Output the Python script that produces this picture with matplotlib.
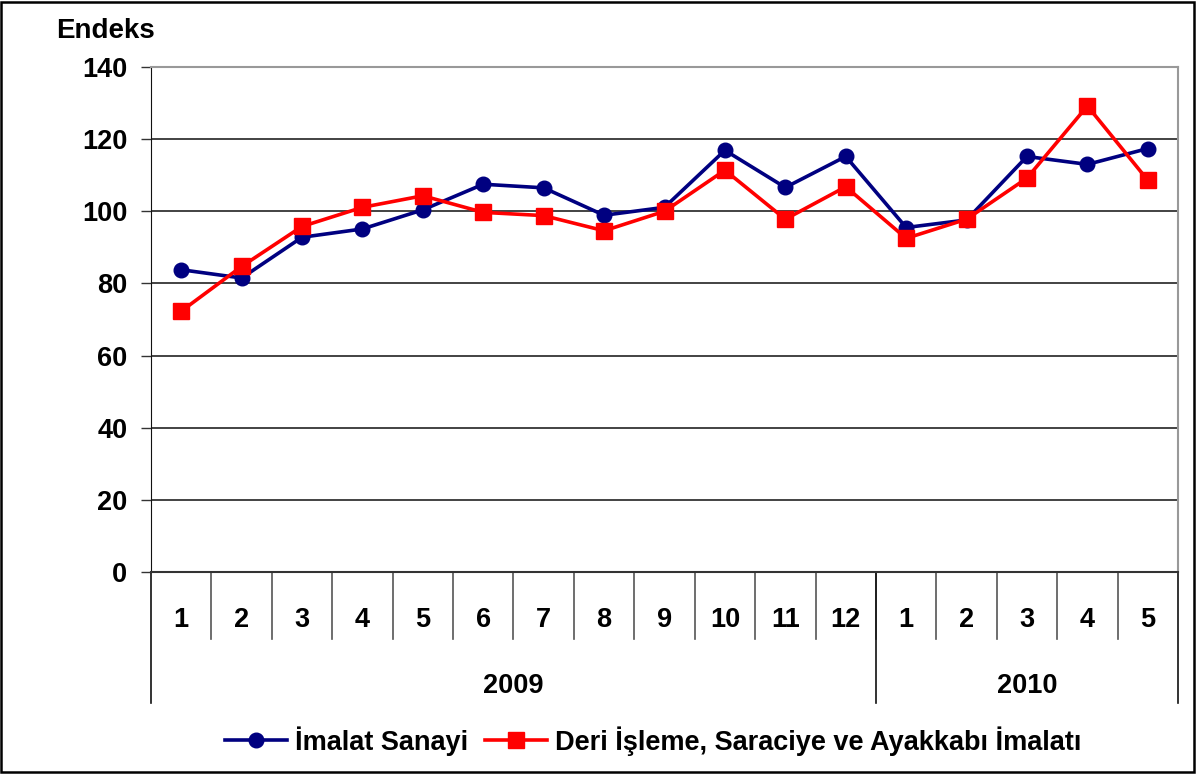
import matplotlib
matplotlib.use("Agg")
import matplotlib.pyplot as plt
from matplotlib.patches import Rectangle

plt.rcParams['font.family'] = ['Liberation Sans', 'DejaVu Sans']
plt.rcParams['font.weight'] = 'bold'

# data
months = ['1', '2', '3', '4', '5', '6', '7', '8', '9', '10', '11', '12',
          '1', '2', '3', '4', '5']
years = ['2009', '2010']
year_counts = [12, 5]
imalat = [83.8, 81.5, 92.8, 95.1, 100.4, 107.5, 106.5, 98.9, 101.1, 116.9,
          106.6, 115.2, 95.5, 97.6, 115.2, 113.0, 117.4]
deri = [72.3, 84.7, 95.8, 101.1, 104.3, 99.7, 98.8, 94.6, 100.0, 111.4,
        97.8, 106.8, 92.5, 97.8, 109.2, 129.2, 108.6]
yticks = [0, 20, 40, 60, 80, 100, 120, 140]

fs = 19.5
fig = plt.figure(figsize=(11.96, 7.74), dpi=100)
fig.patches.append(Rectangle((0.001, 0.002), 0.997, 0.996, transform=fig.transFigure,
                             fill=False, edgecolor='black', linewidth=1.8))

ax = fig.add_axes([151 / 1196, 1 - 572 / 774, (1178 - 151) / 1196, (572 - 67) / 774])
x = list(range(len(months)))

ax.plot(x, imalat, color='#000080', linewidth=2.6, marker='o', markersize=10.5,
        label='İmalat Sanayi', zorder=3)
ax.plot(x, deri, color='#ff0000', linewidth=2.6, marker='s', markersize=11,
        label='Deri İşleme, Saraciye ve Ayakkabı İmalatı', zorder=4)

ax.set_xlim(-0.5, len(months) - 0.5)
ax.set_ylim(0, 140)
ax.set_yticks(yticks)
ax.set_yticklabels([str(v) for v in yticks], fontsize=fs, fontweight='bold')
ax.tick_params(axis='y', length=7, width=1, color='#333333', pad=10)
ax.set_xticks([])
for v in yticks[1:-1]:
    ax.axhline(v, color='#222222', linewidth=1.2, zorder=1)

ax.spines['left'].set_color('#111111')
ax.spines['bottom'].set_color('#333333')
ax.spines['bottom'].set_linewidth(1.5)
ax.spines['top'].set_color('#999999')
ax.spines['top'].set_linewidth(1.5)
ax.spines['right'].set_color('#999999')
ax.spines['right'].set_linewidth(1.5)

trans = ax.get_xaxis_transform()
ax_h = 572 - 67
sep_short = -(639 - 572) / ax_h
sep_long = -(703 - 572) / ax_h

# month labels and separators
for i, m in enumerate(months):
    ax.text(i, -(620 - 572) / ax_h, m, transform=trans, ha='center', va='center',
            fontsize=fs, fontweight='bold')
for i in range(1, len(months)):
    ax.plot([i - 0.5, i - 0.5], [0, sep_short], transform=trans, color='#555555',
            linewidth=1.2, clip_on=False)

# year labels and separators
start = 0
bounds = [start]
for y, n in zip(years, year_counts):
    ax.text(start + (n - 1) / 2, -(686 - 572) / ax_h, y, transform=trans,
            ha='center', va='center', fontsize=fs, fontweight='bold')
    start += n
    bounds.append(start)
for b in bounds:
    ax.plot([b - 0.5, b - 0.5], [0, sep_long], transform=trans, color='#111111',
            linewidth=1.2, clip_on=False)

fig.text(106 / 1196, 1 - 31 / 774, 'Endeks', ha='center', va='center',
         fontsize=fs + 0.5, fontweight='bold')

fig.legend(loc='center', bbox_to_anchor=(653 / 1196, 1 - 741 / 774), ncol=2,
           frameon=False, handlelength=2.3, handletextpad=0.3,
           columnspacing=0.6, prop={'weight': 'bold', 'size': fs})

fig.savefig('out.png', dpi=100)
